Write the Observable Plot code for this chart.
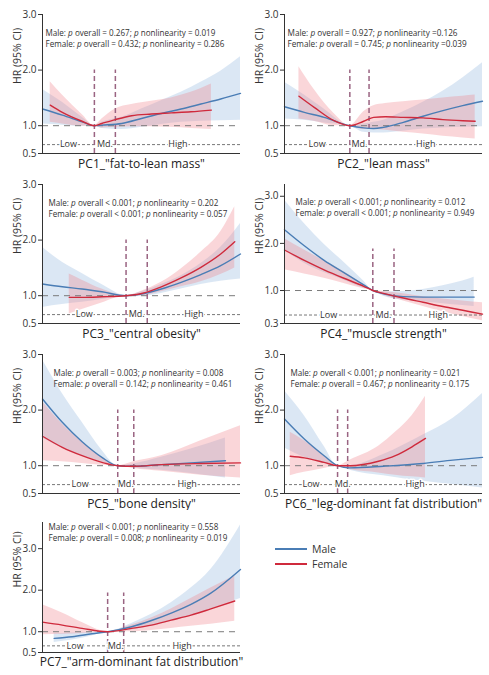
<!DOCTYPE html>
<html>
<head>
<meta charset="utf-8">
<script src="https://cdn.jsdelivr.net/npm/d3@7"></script>
<script src="https://cdn.jsdelivr.net/npm/@observablehq/plot@0.6"></script>
<style>
  html, body { margin: 0; padding: 0; background: #fff; }
  body { font-family: "Open Sans", sans-serif; color: #333; }
  #grid { display: grid; grid-template-columns: 244px 245px; grid-template-rows: 170px 170px 170px 165px; width: 489px; }
  #grid svg { display: block; }
  .legend { position: relative; }
  .legend .item { position: absolute; left: 31px; display: flex; align-items: center; font-size: 10.5px; color: #333; }
  .legend .sw { width: 32px; height: 1.6px; margin-right: 5px; }
</style>
</head>
<body>
<div id="grid"></div>
<script>
// ---------- data: [x (position on PC score axis, 0–100), HR, lower 95% CI, upper 95% CI] ----------
const pc1Male = [[0,1.30,1.03,1.65],[10,1.19,1.01,1.42],[20,1.07,0.99,1.15],[26.2,1,1,1],[30,1.01,0.95,1.06],[40,1.04,0.93,1.15],[50,1.13,0.97,1.30],[60,1.22,1.02,1.45],[70,1.30,1.06,1.60],[80,1.39,1.08,1.78],[90,1.48,1.09,1.98],[100,1.58,1.10,2.24]];
const pc1Female = [[3.9,1.37,1.06,1.79],[10,1.24,1.03,1.55],[20,1.08,0.99,1.20],[26.2,1,1,1],[30,1.04,0.96,1.12],[36.8,1.11,0.97,1.30],[45,1.18,0.98,1.38],[55,1.21,0.98,1.44],[65,1.23,0.97,1.50],[75,1.25,0.95,1.60],[85.3,1.28,0.93,1.75]];
const pc2Male = [[0,1.34,1.12,1.78],[10,1.24,1.10,1.55],[20,1.15,1.05,1.30],[33,1,1,1],[40,0.96,0.88,1.03],[45,0.95,0.87,1.06],[50,0.97,0.87,1.10],[60,1.06,0.90,1.25],[70,1.17,0.94,1.42],[80,1.27,0.96,1.62],[90,1.36,0.97,1.86],[100,1.44,0.98,2.13]];
const pc2Female = [[7.3,1.53,1.12,2.06],[15,1.33,1.08,1.65],[25,1.09,1.00,1.22],[33,1,1,1],[40,1.08,0.93,1.25],[45,1.15,0.93,1.36],[51,1.16,0.92,1.40],[60,1.15,0.88,1.43],[70,1.14,0.85,1.46],[80,1.11,0.81,1.50],[90,1.09,0.78,1.53],[96.3,1.08,0.76,1.55]];
const pc3Male = [[0,1.21,0.79,1.87],[10,1.16,0.84,1.60],[20,1.12,0.88,1.40],[30,1.07,0.93,1.20],[42.2,1,1,1],[50,1.03,0.99,1.07],[60,1.12,1.04,1.20],[70,1.24,1.12,1.36],[80,1.38,1.20,1.58],[90,1.54,1.26,1.87],[100,1.75,1.30,2.30]];
const pc3Female = [[13.5,0.97,0.67,1.39],[20,0.97,0.75,1.28],[30,0.98,0.87,1.12],[42.2,1,1,1],[50,1.04,1.00,1.08],[60,1.16,1.07,1.24],[70,1.32,1.16,1.48],[80,1.51,1.25,1.78],[90,1.75,1.38,2.15],[97.1,1.97,1.50,2.60]];
const pc4Male = [[0,2.29,1.85,2.92],[10,1.95,1.58,2.42],[20,1.64,1.38,1.98],[30,1.38,1.22,1.60],[40,1.12,1.05,1.20],[44.6,1,1,1],[50,0.93,0.88,0.97],[60,0.87,0.80,0.98],[70,0.86,0.76,1.02],[80,0.86,0.72,1.10],[90,0.86,0.68,1.20],[95.8,0.86,0.66,1.28]];
const pc4Female = [[0,1.86,1.44,2.10],[10,1.64,1.35,1.86],[20,1.44,1.26,1.63],[30,1.26,1.15,1.40],[40,1.09,1.04,1.13],[44.6,1,1,1],[50,0.94,0.90,0.98],[60,0.84,0.78,0.93],[70,0.75,0.66,0.87],[80,0.66,0.55,0.82],[90,0.58,0.45,0.78],[100,0.50,0.36,0.74]];
const pc5Male = [[0,2.20,1.50,2.90],[10,1.78,1.32,2.30],[20,1.43,1.18,1.78],[30,1.15,1.06,1.28],[38,1,1,1],[46,0.99,0.96,1.03],[60,1.02,0.92,1.15],[75,1.05,0.86,1.30],[92.4,1.09,0.78,1.50]];
const pc5Female = [[0,1.53,1.09,2.15],[10,1.33,1.07,1.75],[20,1.18,1.04,1.42],[30,1.06,1.01,1.15],[38,1,1,1],[46,0.99,0.95,1.07],[60,1.02,0.90,1.18],[80,1.04,0.83,1.45],[100,1.05,0.78,1.72]];
const pc6Male = [[0,1.84,1.32,2.35],[10,1.48,1.15,1.90],[20,1.18,1.04,1.35],[26.8,1,1,1],[33,0.96,0.92,1.00],[50,0.99,0.82,1.20],[70,1.04,0.72,1.55],[85,1.10,0.66,1.85],[100,1.15,0.60,2.30]];
const pc6Female = [[2.9,1.17,0.82,1.60],[10,1.14,0.88,1.45],[20,1.06,0.95,1.18],[26.8,1,1,1],[33,1.00,0.93,1.10],[47.5,1.08,0.87,1.35],[56,1.18,0.83,1.60],[64.4,1.34,0.80,1.90],[71.2,1.49,0.78,2.25]];
const pc7Male = [[5.9,0.84,0.74,0.95],[15,0.88,0.80,0.97],[25,0.95,0.90,0.99],[32.9,1,1,1],[45,1.12,1.04,1.20],[55,1.27,1.13,1.42],[65,1.45,1.25,1.70],[75,1.66,1.38,2.05],[85,1.93,1.55,2.50],[100,2.50,1.80,3.57]];
const pc7Female = [[0,1.23,0.93,1.65],[10,1.16,0.94,1.45],[20,1.08,0.96,1.22],[32.9,1,1,1],[45,1.08,1.00,1.16],[55,1.16,1.03,1.33],[65,1.28,1.08,1.55],[75,1.40,1.13,1.80],[85,1.55,1.18,2.05],[97.1,1.74,1.25,2.35]];

// tertile cut points (Low | Md. | High) on the x axis
const pc1Cuts = [26.2, 36.8];
const pc2Cuts = [33.0, 42.7];
const pc3Cuts = [42.2, 52.9];
const pc4Cuts = [44.6, 55.3];
const pc5Cuts = [38.0, 46.1];
const pc6Cuts = [26.8, 31.9];
const pc7Cuts = [32.9, 41.0];

const panelLabels = ['PC1_"fat-to-lean mass"', 'PC2_"lean mass"', 'PC3_"central obesity"', 'PC4_"muscle strength"', 'PC5_"bone density"', 'PC6_"leg-dominant fat distribution"', 'PC7_"arm-dominant fat distribution"'];
const maleStats = ["Male: p overall = 0.267; p nonlinearity = 0.019", "Male: p overall = 0.927; p nonlinearity =0.126", "Male: p overall < 0.001; p nonlinearity = 0.202", "Male: p overall < 0.001; p nonlinearity = 0.012", "Male: p overall = 0.003; p nonlinearity = 0.008", "Male: p overall < 0.001; p nonlinearity = 0.021", "Male: p overall < 0.001; p nonlinearity = 0.558"];
const femaleStats = ["Female: p overall = 0.432; p nonlinearity = 0.286", "Female: p overall = 0.745; p nonlinearity =0.039", "Female: p overall < 0.001; p nonlinearity = 0.057", "Female: p overall < 0.001; p nonlinearity = 0.949", "Female: p overall = 0.142; p nonlinearity = 0.461", "Female: p overall = 0.467; p nonlinearity = 0.175", "Female: p overall = 0.008; p nonlinearity = 0.019"];

const yTicksStd = [0.5, 1.0, 2.0, 3.0];
const yTicksPC4 = [0.3, 1.0, 2.0, 3.0];
const yDomains = [[0.5, 3.0], [0.5, 3.0], [0.5, 3.0], [0.3, 3.25], [0.5, 3.0], [0.5, 3.0], [0.5, 3.63]];
const yTickSets = [yTicksStd, yTicksStd, yTicksStd, yTicksPC4, yTicksStd, yTicksStd, yTicksStd];
const groupLineY = [0.66, 0.66, 0.66, 0.48, 0.66, 0.66, 0.66];
const cutLineTop = [2.0, 2.0, 2.0, 1.88, 2.0, 2.0, 1.93];
const groupNames = ["Low", "Md.", "High"];
const sexes = ["Male", "Female"];

const maleSeries = [pc1Male, pc2Male, pc3Male, pc4Male, pc5Male, pc6Male, pc7Male];
const femaleSeries = [pc1Female, pc2Female, pc3Female, pc4Female, pc5Female, pc6Female, pc7Female];
const cutSets = [pc1Cuts, pc2Cuts, pc3Cuts, pc4Cuts, pc5Cuts, pc6Cuts, pc7Cuts];

// ---------- styling / layout ----------
const maleColor = "#4a7db5", femaleColor = "#cf2a3c";
const maleBand = "#7aa6d6", femaleBand = "#ef7f8a";
const annotDx = [3, 3, 6, 11, 11, 6, 6];
const annotDy = [19, 19, 19, 18, 19, 19, 5];
const X_DOMAIN = [0, 100];
const MALE_TEXT_W = 170;
const BASE_ANNOT_FONT = 8.6;

const grid = document.getElementById("grid");

function toRows(arr) { return arr.map(([x, hr, lo, hi]) => ({x, hr, lo, hi})); }

function annotTexts(svg) {
  return d3.select(svg).selectAll("text").filter(function () {
    return /^(Male|Female): /.test(this.textContent);
  });
}

function italicizeP(svg) {
  annotTexts(svg).each(function () {
    const s = this.textContent;
    const el = d3.select(this);
    el.text(null);
    s.split(/(\bp\b)/).forEach(part => {
      if (!part) return;
      const t = el.append("tspan").text(part);
      if (part === "p") t.attr("font-style", "italic");
    });
  });
}

// after the svg is in the page: one font size per panel so the Male line has the reference width
function fitAnnotations(svg) {
  const texts = annotTexts(svg);
  let fs = BASE_ANNOT_FONT;
  texts.each(function () {
    if (this.textContent.startsWith("Male")) {
      const len = this.getComputedTextLength();
      if (len > 0) fs = Math.max(7, Math.min(9.5, BASE_ANNOT_FONT * MALE_TEXT_W / len));
    }
  });
  texts.attr("font-size", fs.toFixed(2));
}

for (let i = 0; i < 7; i++) {
  const col = i % 2;
  const lastRow = i === 6;
  const width = col === 0 ? 244 : 245;
  const height = lastRow ? 165 : 170;
  const marginLeft = col === 0 ? 42 : 40;
  const marginRight = col === 0 ? 4 : 7;
  const marginTop = lastRow ? 12 : 14;
  const marginBottom = lastRow ? 23 : 17;
  const yDom = yDomains[i];
  const cuts = cutSets[i];
  const male = toRows(maleSeries[i]);
  const female = toRows(femaleSeries[i]);
  const groupLabelX = [(X_DOMAIN[0] + cuts[0]) / 2, (cuts[0] + cuts[1]) / 2, (cuts[1] + X_DOMAIN[1]) / 2];
  const groups = groupNames.map((g, k) => ({g, x: groupLabelX[k]}));

  const svg = Plot.plot({
    width, height, marginLeft, marginRight, marginTop, marginBottom,
    style: {fontFamily: "Open Sans, sans-serif", color: "#333", background: "white", overflow: "visible"},
    x: {domain: X_DOMAIN, axis: null},
    y: {domain: yDom, axis: null},
    marks: [
      Plot.areaY(male, {x: "x", y1: "lo", y2: "hi", fill: maleBand, fillOpacity: 0.27, curve: "monotone-x"}),
      Plot.areaY(female, {x: "x", y1: "lo", y2: "hi", fill: femaleBand, fillOpacity: 0.32, curve: "monotone-x"}),
      Plot.ruleY([1], {stroke: "#7a7a7a", strokeWidth: 1, strokeDasharray: "6,5"}),
      Plot.ruleY([groupLineY[i]], {stroke: "#555", strokeWidth: 0.8, strokeDasharray: "3,2"}),
      Plot.ruleX(cuts, {y1: yDom[0], y2: cutLineTop[i], stroke: "#9a6482", strokeWidth: 1.5, strokeDasharray: "5,3"}),
      Plot.text(groups, {x: "x", y: () => groupLineY[i], text: "g", fontSize: 9, fill: "#333", stroke: "white", strokeWidth: 3}),
      Plot.line(male, {x: "x", y: "hr", stroke: maleColor, strokeWidth: 1.4, curve: "monotone-x"}),
      Plot.line(female, {x: "x", y: "hr", stroke: femaleColor, strokeWidth: 1.4, curve: "monotone-x"}),
      Plot.ruleX([X_DOMAIN[0]], {stroke: "#333", strokeWidth: 1}),
      Plot.ruleY([yDom[0]], {stroke: "#333", strokeWidth: 1}),
      Plot.axisY({ticks: yTickSets[i], tickFormat: ".1f", tickSize: 4, tickPadding: 2, fontSize: 10, label: null, stroke: "#333"}),
      Plot.text([maleStats[i]], {frameAnchor: "top-left", dx: annotDx[i], dy: annotDy[i], lineAnchor: "middle", textAnchor: "start", fontSize: BASE_ANNOT_FONT, fill: "#333"}),
      Plot.text([femaleStats[i]], {frameAnchor: "top-left", dx: annotDx[i], dy: annotDy[i] + 10.5, lineAnchor: "middle", textAnchor: "start", fontSize: BASE_ANNOT_FONT, fill: "#333"}),
      Plot.text(["HR (95% CI)"], {frameAnchor: "left", dx: -25, rotate: -90, fontSize: 10.5, fill: "#333"}),
      Plot.text([panelLabels[i]], {frameAnchor: "bottom", dy: lastRow ? 10 : 11, lineAnchor: "middle", fontSize: 12, fill: "#222"})
    ]
  });
  italicizeP(svg);
  grid.appendChild(svg);
  fitAnnotations(svg);
}

// legend cell
const leg = document.createElement("div");
leg.className = "legend";
sexes.forEach((s, k) => {
  const item = document.createElement("div");
  item.className = "item";
  item.style.top = (32 + k * 15) + "px";
  const sw = document.createElement("span");
  sw.className = "sw";
  sw.style.background = k === 0 ? maleColor : femaleColor;
  const lab = document.createElement("span");
  lab.textContent = s;
  item.appendChild(sw);
  item.appendChild(lab);
  leg.appendChild(item);
});
grid.appendChild(leg);
</script>
</body>
</html>
